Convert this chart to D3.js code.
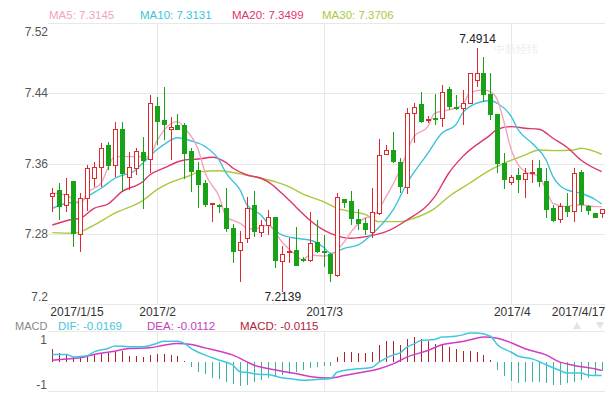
<!DOCTYPE html>
<html>
<head>
<meta charset="utf-8">
<script src="https://cdn.jsdelivr.net/npm/d3@7/dist/d3.min.js"></script>
<style>
  body { margin: 0; background: #fff; }
  svg { display: block; font-family: Arial, "Liberation Sans", sans-serif; }
</style>
</head>
<body>
<script>
// daily candles (index 0 = 2017/1/15 ... 79 = 2017/4/17)
var opens = [7.3224, 7.3289, 7.3119, 7.3392, 7.2794, 7.3206, 7.3434, 7.3559, 7.3801, 7.3574,
  7.3991, 7.3445, 7.3548, 7.3722, 7.3642, 7.4245, 7.4086, 7.3991, 7.4029, 7.4029,
  7.3737, 7.3520, 7.3369, 7.3141, 7.3122, 7.3092, 7.2865, 7.2610, 7.2751, 7.3119,
  7.2815, 7.2902, 7.2990, 7.2485, 7.2584, 7.2610, 7.2512, 7.2496, 7.2701, 7.2595,
  7.2572, 7.2333, 7.3195, 7.3168, 7.2959, 7.2914, 7.2815, 7.3036, 7.3707, 7.3745,
  7.3611, 7.3331, 7.4174, 7.4268, 7.4097, 7.4117, 7.4117, 7.4439, 7.4237, 7.4230,
  7.4287, 7.4545, 7.4629, 7.4382, 7.4154, 7.3605, 7.3384, 7.3460, 7.3422, 7.3494,
  7.3548, 7.3395, 7.3085, 7.2967, 7.3111, 7.3054, 7.3502, 7.3111, 7.3036, 7.3036];
var closes = [7.3263, 7.3111, 7.3252, 7.2806, 7.3206, 7.3548, 7.3559, 7.3775, 7.3574, 7.3991,
  7.3491, 7.3559, 7.3737, 7.3634, 7.4279, 7.4078, 7.4048, 7.4006, 7.3991, 7.3718,
  7.3509, 7.3358, 7.3130, 7.3149, 7.3115, 7.2865, 7.2599, 7.2701, 7.3092, 7.2826,
  7.2902, 7.2990, 7.2496, 7.2572, 7.2595, 7.2439, 7.2504, 7.2686, 7.2599, 7.2584,
  7.2345, 7.3218, 7.3156, 7.2979, 7.2914, 7.2846, 7.3042, 7.3688, 7.3745, 7.3623,
  7.3338, 7.4166, 7.4242, 7.4078, 7.4105, 7.4097, 7.4408, 7.4249, 7.4230, 7.4287,
  7.4629, 7.4621, 7.4382, 7.4154, 7.3605, 7.3415, 7.3445, 7.3422, 7.3491, 7.3498,
  7.3395, 7.3073, 7.2951, 7.3111, 7.3054, 7.3491, 7.3130, 7.3065, 7.2990, 7.3073];
var highs = [7.3320, 7.3377, 7.3434, 7.3395, 7.3263, 7.3585, 7.3623, 7.3832, 7.3850, 7.4078,
  7.4078, 7.3737, 7.3775, 7.3900, 7.4382, 7.4359, 7.4476, 7.4128, 7.4166, 7.4060,
  7.3775, 7.3623, 7.3415, 7.3153, 7.3138, 7.3320, 7.2914, 7.2834, 7.3218, 7.3293,
  7.2959, 7.3073, 7.2997, 7.2663, 7.2751, 7.2876, 7.2542, 7.3054, 7.2959, 7.2789,
  7.2580, 7.3263, 7.3195, 7.3293, 7.3081, 7.2979, 7.3320, 7.3878, 7.3813, 7.3964,
  7.3661, 7.4230, 7.4287, 7.4419, 7.4143, 7.4393, 7.4496, 7.4470, 7.4382, 7.4439,
  7.4629, 7.4914, 7.4818, 7.4629, 7.4154, 7.3718, 7.3471, 7.3548, 7.3548, 7.3642,
  7.3642, 7.3548, 7.3130, 7.3149, 7.3263, 7.3548, 7.3528, 7.3130, 7.3039, 7.3073];
var lows = [7.3054, 7.2959, 7.3054, 7.2655, 7.2599, 7.3062, 7.3338, 7.3338, 7.3528, 7.3452,
  7.3281, 7.3301, 7.3471, 7.3085, 7.3491, 7.3813, 7.3870, 7.3642, 7.3980, 7.3422,
  7.3281, 7.3092, 7.3104, 7.2940, 7.3036, 7.2826, 7.2467, 7.2257, 7.2701, 7.2769,
  7.2769, 7.2789, 7.2410, 7.2139, 7.2467, 7.2436, 7.2485, 7.2485, 7.2580, 7.2428,
  7.2257, 7.2314, 7.3092, 7.2902, 7.2846, 7.2789, 7.2751, 7.3016, 7.3699, 7.3605,
  7.3263, 7.3255, 7.3832, 7.4067, 7.4060, 7.4040, 7.4014, 7.4211, 7.4211, 7.4040,
  7.4279, 7.4476, 7.4306, 7.4097, 7.3491, 7.3309, 7.3358, 7.3263, 7.3206, 7.3377,
  7.3338, 7.2979, 7.2940, 7.2922, 7.2997, 7.2940, 7.3054, 7.3016, 7.2979, 7.2979];

// moving averages, [candle index, value]
var ma5 = [[0,7.3263],[2,7.3244],[4,7.3141],[5,7.3263],[7,7.3377],[9,7.3680],[12,7.3680],[14,7.3680],
  [15,7.3850],[18,7.4078],[19,7.4006],[21,7.3756],[22,7.3491],[24,7.3224],[25,7.2997],[27,7.2922],
  [28,7.2865],[29,7.2857],[31,7.2902],[33,7.2712],[35,7.2561],[36,7.2504],[37,7.2561],[39,7.2550],
  [40,7.2561],[42,7.2712],[43,7.2826],[45,7.2982],[46,7.2997],[48,7.3224],[50,7.3528],[52,7.3907],
  [54,7.4021],[55,7.4174],[57,7.4211],[59,7.4268],[60,7.4401],[62,7.4439],[63,7.4419],[64,7.4325],
  [65,7.4060],[66,7.3756],[67,7.3585],[68,7.3509],[70,7.3452],[71,7.3301],[72,7.3149],[74,7.3111],
  [75,7.3130],[76,7.3130],[78,7.3111],[79,7.3111]];
var ma10 = [[0,7.3092],[2,7.3149],[4,7.3168],[5,7.3224],[7,7.3320],[9,7.3434],[12,7.3528],[13,7.3605],
  [15,7.3756],[16,7.3813],[18,7.3894],[20,7.3858],[22,7.3793],[24,7.3640],[25,7.3491],[27,7.3301],
  [28,7.3130],[30,7.3016],[31,7.2922],[33,7.2789],[35,7.2751],[37,7.2732],[39,7.2649],[40,7.2580],
  [42,7.2637],[44,7.2675],[46,7.2800],[49,7.3073],[51,7.3377],[54,7.3718],[56,7.3946],[58,7.4040],
  [59,7.4174],[61,7.4287],[63,7.4319],[64,7.4287],[66,7.4135],[67,7.3983],[69,7.3832],[71,7.3642],
  [72,7.3452],[74,7.3301],[76,7.3263],[78,7.3195],[79,7.3141]];
var ma20 = [[0,7.2902],[3,7.2967],[4,7.2979],[6,7.3092],[8,7.3141],[10,7.3281],[13,7.3395],[14,7.3471],
  [16,7.3548],[19,7.3642],[21,7.3653],[23,7.3673],[25,7.3611],[26,7.3548],[28,7.3471],[30,7.3434],
  [31,7.3395],[33,7.3263],[35,7.3111],[37,7.2959],[39,7.2846],[40,7.2808],[43,7.2751],[45,7.2769],
  [48,7.2826],[51,7.2959],[55,7.3224],[57,7.3491],[59,7.3680],[63,7.3927],[64,7.3991],[66,7.4021],
  [68,7.4003],[70,7.3991],[72,7.3889],[74,7.3787],[76,7.3642],[79,7.3509]];
var ma30 = [[0,7.2815],[3,7.2808],[4,7.2823],[6,7.2902],[9,7.3036],[13,7.3179],[15,7.3301],[17,7.3386],
  [20,7.3471],[21,7.3506],[24,7.3520],[27,7.3483],[29,7.3452],[30,7.3434],[32,7.3395],[34,7.3338],
  [36,7.3255],[39,7.3168],[41,7.3092],[43,7.3054],[45,7.3022],[47,7.2940],[50,7.2940],[52,7.2979],
  [55,7.3092],[57,7.3224],[60,7.3377],[63,7.3528],[65,7.3605],[68,7.3699],[70,7.3756],[72,7.3748],
  [75,7.3756],[76,7.3775],[79,7.3707]];

// MACD panel, in the panel's own scale (labels 1 / -1)
var macdHist = [0.58, 0.40, 0.30, 0.20, 0.24, 0.29, 0.30, 0.35, 0.40, 0.42,
  0.50, 0.27, 0.24, 0.20, 0.30, 0.35, 0.35, 0.30, 0.24, 0.02,
  -0.24, -0.47, -0.59, -0.77, -0.80, -0.92, -1.00, -1.10, -1.05, -0.92,
  -0.85, -0.77, -0.70, -0.62, -0.55, -0.47, -0.40, -0.29, -0.24, -0.20,
  -0.20, 0.20, 0.42, 0.42, 0.40, 0.40, 0.42, 0.73, 0.91, 0.91,
  0.76, 1.03, 1.10, 1.03, 0.95, 0.80, 0.73, 0.65, 0.58, 0.50,
  0.50, 0.45, 0.30, 0.05, -0.38, -0.68, -0.88, -0.99, -0.91, -0.91,
  -0.91, -0.99, -1.09, -1.06, -0.99, -0.91, -0.83, -0.76, -0.68, -0.45];
var dif = [[0,0.32],[2,0.32],[3,0.21],[5,0.26],[6,0.44],[8,0.59],[9,0.71],[11,0.67],[13,0.67],[15,0.82],
  [16,0.92],[18,0.92],[19,0.82],[20,0.59],[22,0.29],[24,0.06],[26,-0.17],[27,-0.47],[28,-0.50],[30,-0.59],
  [31,-0.59],[33,-0.74],[34,-0.77],[36,-0.85],[37,-0.84],[38,-0.82],[40,-0.78],[41,-0.48],[43,-0.36],
  [44,-0.33],[46,-0.26],[47,-0.03],[49,0.30],[50,0.39],[51,0.65],[52,0.80],[53,0.95],[55,1.00],[56,1.11],
  [58,1.15],[59,1.21],[60,1.30],[61,1.30],[63,1.15],[64,0.76],[66,0.42],[67,0.24],[69,0.12],[70,0.00],
  [71,-0.15],[73,-0.41],[74,-0.52],[76,-0.52],[77,-0.61],[79,-0.64]];
var dea = [[0,0.06],[2,0.11],[4,0.17],[6,0.32],[9,0.47],[11,0.59],[14,0.62],[16,0.74],[18,0.82],[20,0.77],
  [22,0.62],[24,0.47],[26,0.29],[28,-0.02],[29,-0.17],[31,-0.32],[33,-0.44],[35,-0.55],[37,-0.68],
  [40,-0.75],[42,-0.64],[44,-0.52],[47,-0.33],[49,-0.11],[51,0.20],[54,0.50],[56,0.76],[59,0.91],
  [61,1.06],[62,1.11],[64,1.06],[66,0.85],[68,0.58],[71,0.30],[73,-0.03],[75,-0.18],[78,-0.33],[79,-0.41]];

var priceTicks = [7.52, 7.44, 7.36, 7.28, 7.2];
var macdTicks = [1, -1];
var dateTickIdx = [0, 15, 39, 66, 79];
var dateTickText = ["2017/1/15", "2017/2", "2017/3", "2017/4", "2017/4/17"];
var maLegend = ["MA5: 7.3145", "MA10: 7.3131", "MA20: 7.3499", "MA30: 7.3706"];
var macdLegend = ["DIF: -0.0169", "DEA: -0.0112", "MACD: -0.0115"];

var width = 610, height = 393;
var left = 48, right = 605;
var red = "#dd2a2f", green = "#17a217";
var maColors = ["#f3a3ba", "#3ec3d8", "#e0356c", "#a9c93c"];

var svg = d3.select("body").append("svg")
    .attr("width", width)
    .attr("height", height);

var x = d3.scaleLinear().domain([0, opens.length - 1]).range([52.3, 601.7]);
var y = d3.scaleLinear().domain([7.2, 7.52]).range([304.3, 23]);
var ym = d3.scaleLinear().domain([-1, 1]).range([383.5, 339.5]);

// grid
var grid = svg.append("g").attr("stroke", "#e8e8e8").attr("shape-rendering", "crispEdges");
grid.selectAll("line.h").data(priceTicks).enter().append("line")
    .attr("x1", left).attr("x2", right)
    .attr("y1", function(d) { return Math.round(y(d)) + 0.5; })
    .attr("y2", function(d) { return Math.round(y(d)) + 0.5; });
grid.selectAll("line.m").data([331, 391]).enter().append("line")
    .attr("x1", left).attr("x2", right)
    .attr("y1", function(d) { return d + 0.5; })
    .attr("y2", function(d) { return d + 0.5; });
dateTickIdx.slice(1, 4).forEach(function(i) {
  var gx = Math.round(x(i)) + 0.5;
  grid.append("line").attr("x1", gx).attr("x2", gx).attr("y1", 23).attr("y2", 304);
  grid.append("line").attr("x1", gx).attr("x2", gx).attr("y1", 331).attr("y2", 391);
});

// watermark
svg.append("text").attr("x", 494).attr("y", 53)
    .attr("font-size", 11).attr("fill", "#ededed").text("中新经纬");

// price labels
svg.append("g").selectAll("text").data(priceTicks).enter().append("text")
    .attr("x", 48)
    .attr("y", function(d, i) {
      var off = i === 0 ? 9 : (i === priceTicks.length - 1 ? -7 : 0);
      return y(d) + off + 4;
    })
    .attr("text-anchor", "end")
    .attr("font-size", 12)
    .attr("fill", "#555")
    .text(function(d) { return String(d); });

// MA lines
var maLine = d3.line()
    .x(function(d) { return x(d[0]); })
    .y(function(d) { return y(d[1]); })
    .curve(d3.curveMonotoneX);
[ma30, ma20, ma10, ma5].forEach(function(s, k) {
  svg.append("path").datum(s)
    .attr("d", maLine)
    .attr("fill", "none")
    .attr("stroke", maColors[3 - k])
    .attr("stroke-width", 1.4);
});

// candles
var candles = d3.range(opens.length).map(function(i) {
  return {i: i, o: opens[i], c: closes[i], h: highs[i], l: lows[i], up: closes[i] >= opens[i]};
});
var cg = svg.append("g").selectAll("g").data(candles).enter().append("g");
cg.append("line")
    .attr("x1", function(d) { return Math.round(x(d.i)) + 0.5; })
    .attr("x2", function(d) { return Math.round(x(d.i)) + 0.5; })
    .attr("y1", function(d) { return y(d.h); })
    .attr("y2", function(d) { return y(d.l); })
    .attr("stroke", function(d) { return d.up ? red : green; })
    .attr("shape-rendering", "crispEdges");
cg.append("rect")
    .attr("x", function(d) { return Math.round(x(d.i)) - 2 + 0.5; })
    .attr("width", 4)
    .attr("y", function(d) { return y(Math.max(d.o, d.c)); })
    .attr("height", function(d) { return Math.max(1, Math.abs(y(d.o) - y(d.c))); })
    .attr("fill", function(d) { return d.up ? "#fff" : green; })
    .attr("stroke", function(d) { return d.up ? red : green; })
    .attr("shape-rendering", "crispEdges");

// extreme labels
var hiIdx = d3.maxIndex(highs), loIdx = d3.minIndex(lows);
svg.append("text").attr("x", x(hiIdx) + 1).attr("y", y(highs[hiIdx]) - 5)
    .attr("text-anchor", "middle").attr("font-size", 12).attr("fill", "#222")
    .text(highs[hiIdx].toFixed(4));
svg.append("text").attr("x", x(loIdx) + 1).attr("y", y(lows[loIdx]) + 9)
    .attr("text-anchor", "middle").attr("font-size", 12).attr("fill", "#222")
    .text(lows[loIdx].toFixed(4));

// date labels
svg.append("g").selectAll("text").data(dateTickIdx).enter().append("text")
    .attr("x", function(d, i) {
      if (i === 0) return x(d) - 2;
      if (i === dateTickIdx.length - 1) return x(d) + 3.5;
      return x(d) + 1;
    })
    .attr("y", 315.5)
    .attr("text-anchor", function(d, i) {
      return i === 0 ? "start" : (i === dateTickIdx.length - 1 ? "end" : "middle");
    })
    .attr("font-size", 12)
    .attr("fill", "#333")
    .text(function(d, i) { return dateTickText[i]; });

// MA legend
var maLegX = [49, 140, 232, 322];
svg.append("g").selectAll("text").data(maLegend).enter().append("text")
    .attr("x", function(d, i) { return maLegX[i]; })
    .attr("y", 19)
    .attr("font-size", 11.5)
    .attr("fill", function(d, i) { return maColors[i]; })
    .text(function(d) { return d; });

// MACD legend
var macdColors = ["#45c6da", "#c43dba", "#b3223a"];
svg.append("text").attr("x", 15).attr("y", 329.5).attr("font-size", 11).attr("fill", "#888").text("MACD");
var macdLegX = [58, 147, 240];
svg.append("g").selectAll("text").data(macdLegend).enter().append("text")
    .attr("x", function(d, i) { return macdLegX[i]; })
    .attr("y", 329.5)
    .attr("font-size", 11.5)
    .attr("fill", function(d, i) { return macdColors[i]; })
    .text(function(d) { return d; });

// little arrows top right
svg.append("path").attr("d", "M573,329 L577,322 L581,329 Z").attr("fill", "#e2e2e2");
svg.append("path").attr("d", "M596,322 L604,322 L600,329 Z").attr("fill", "#e2e2e2");

// MACD axis labels
svg.append("g").selectAll("text").data(macdTicks).enter().append("text")
    .attr("x", 47)
    .attr("y", function(d) { return ym(d) + (d > 0 ? 4 : 5); })
    .attr("text-anchor", "end")
    .attr("font-size", 12)
    .attr("fill", "#555")
    .text(function(d) { return String(d); });

// histogram
svg.append("g").selectAll("line").data(macdHist).enter().append("line")
    .attr("x1", function(d, i) { return Math.round(x(i)) + 0.5; })
    .attr("x2", function(d, i) { return Math.round(x(i)) + 0.5; })
    .attr("y1", ym(0))
    .attr("y2", function(d) { return ym(d); })
    .attr("stroke", function(d) { return d >= 0 ? "#a8232b" : "#38b49c"; })
    .attr("stroke-width", 1.2)
    .attr("shape-rendering", "crispEdges");

// DIF / DEA
var mLine = d3.line()
    .x(function(d) { return x(d[0]); })
    .y(function(d) { return ym(d[1]); })
    .curve(d3.curveMonotoneX);
svg.append("path").datum(dea).attr("d", mLine)
    .attr("fill", "none").attr("stroke", "#d23cc4").attr("stroke-width", 1.5);
svg.append("path").datum(dif).attr("d", mLine)
    .attr("fill", "none").attr("stroke", "#3fc8dd").attr("stroke-width", 1.5);
</script>
</body>
</html>
